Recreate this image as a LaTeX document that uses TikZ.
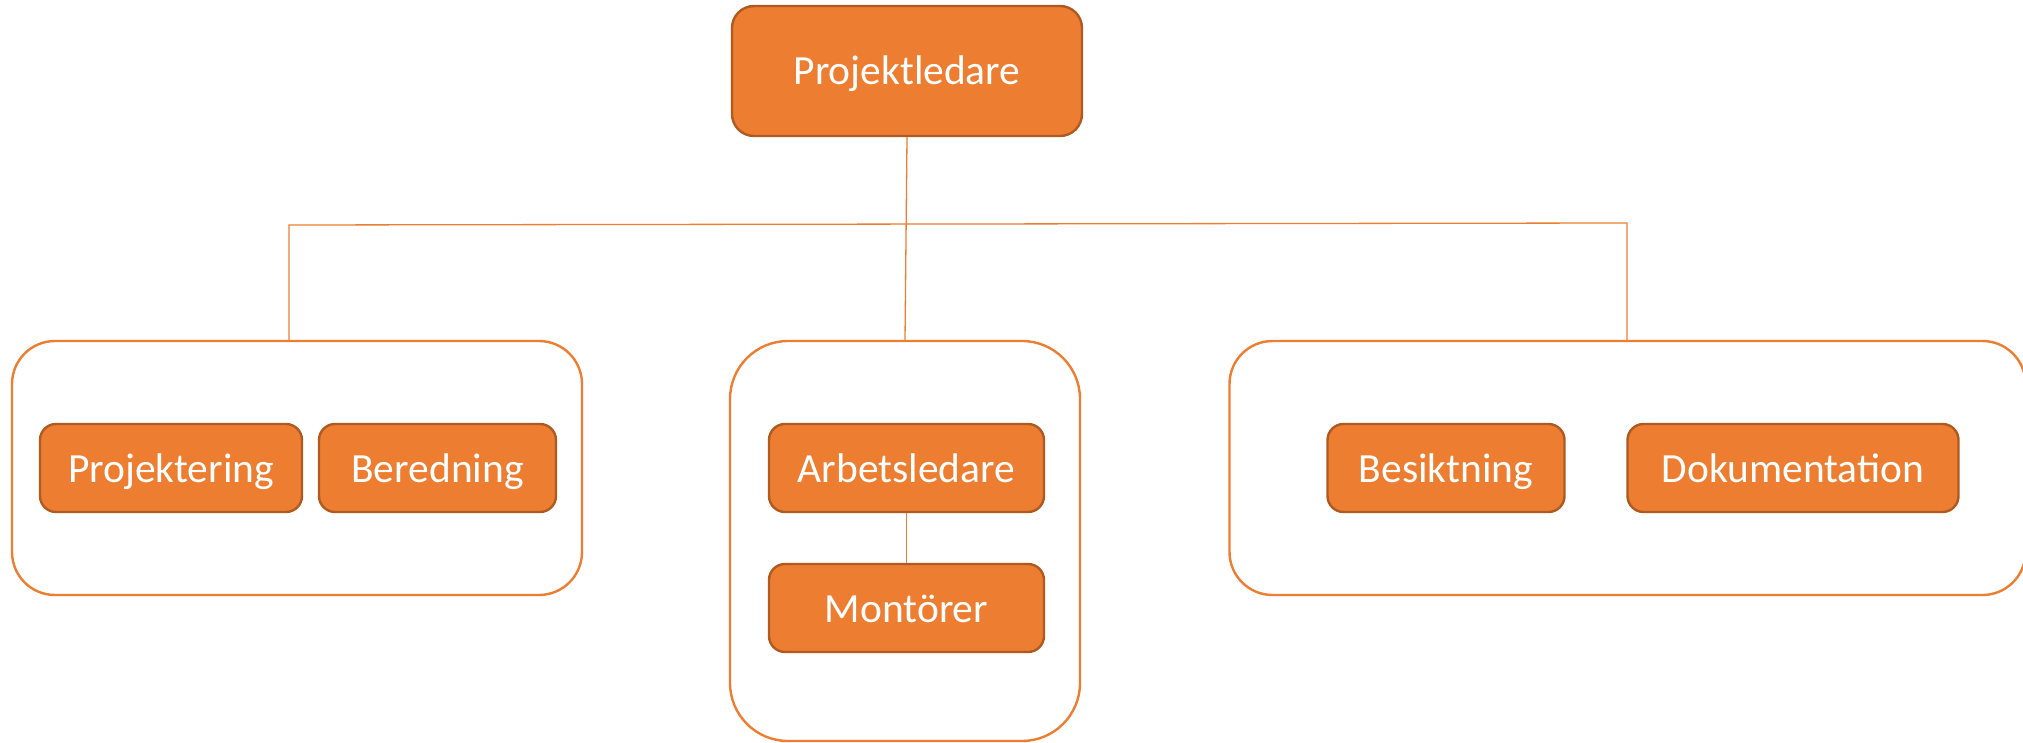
\documentclass[tikz,border=0pt]{standalone}
\usepackage{fontspec}
\setmainfont{Carlito}
\definecolor{orgfill}{HTML}{ED7D31}
\definecolor{orgdark}{HTML}{AE5A21}
\begin{document}
\begin{tikzpicture}[x=1pt,y=-1pt,
  unit/.style={draw=orgdark, line width=2.4pt, fill=orgfill, rounded corners=16pt,
    text=white, font=\fontsize{41.5}{49}\selectfont, inner sep=0pt, anchor=center,
    text height=30pt, text depth=2pt},
  group/.style={draw=orgfill, line width=2.4pt, fill=white, inner sep=0pt, anchor=center},
  link/.style={draw=orgfill, line width=1.3pt}]
\useasboundingbox (0,0) rectangle (2023,743);
% top node
\node[unit, rounded corners=22pt, minimum width=350pt, minimum height=130pt] (pl) at (907,71) {Projektledare};
% group containers
\node[group, rounded corners=43pt, minimum width=570pt, minimum height=254pt] (g1) at (297,468) {};
\node[group, rounded corners=58pt, minimum width=350pt, minimum height=400pt] (g2) at (905,541) {};
\node[group, rounded corners=43pt, minimum width=796pt, minimum height=254pt] (g3) at (1627.5,468) {};
% inner units
\node[unit, minimum width=262pt, minimum height=88pt] (proj) at (171,468) {Projektering};
\node[unit, minimum width=237pt, minimum height=88pt] (ber) at (437.5,468) {Beredning};
\node[unit, minimum width=275pt, minimum height=88pt] (arb) at (906.5,468) {Arbetsledare};
\node[unit, minimum width=275pt, minimum height=88pt] (mon) at (906.5,608) {Montörer};
\node[unit, minimum width=237pt, minimum height=88pt] (bes) at (1446,468) {Besiktning};
\node[unit, minimum width=331pt, minimum height=88pt] (dok) at (1793,468) {Dokumentation};
% connectors
\coordinate (hl) at (289,225);
\coordinate (hr) at (1627,223);
\draw[link] (g1.north -| hl) -- (hl) -- (hr) -- (g3.north -| hr);
\draw[link] (pl.south) -- (g2.north);
\draw[link] (arb.south) -- (mon.north);
\end{tikzpicture}
\end{document}
